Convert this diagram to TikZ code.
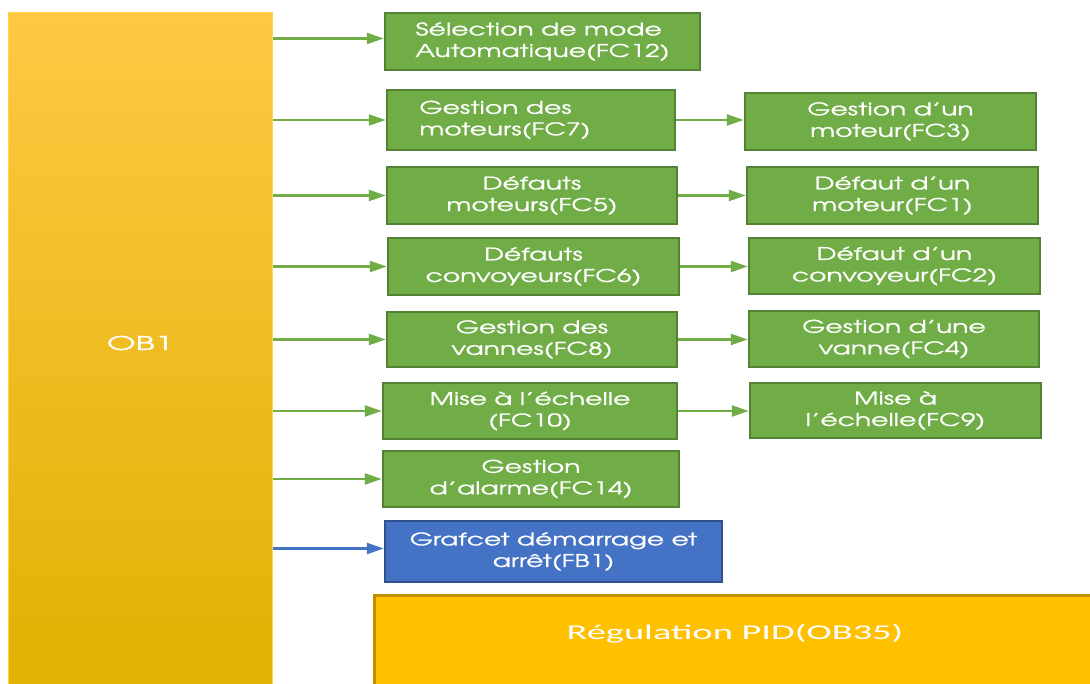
\documentclass[tikz,border=0pt]{standalone}
\usepackage{fontspec}
\newfontfamily\gfont[FakeStretch=1.52,FakeBold=0.8]{TeX Gyre Adventor}
\newfontfamily\ofont[FakeStretch=1.75,FakeBold=0.8]{TeX Gyre Adventor}
\newfontfamily\cfont[FakeStretch=1.83]{Carlito}
\usetikzlibrary{arrows.meta}
\definecolor{gfill}{HTML}{70AD47}
\definecolor{gline}{HTML}{548235}
\definecolor{bfill}{HTML}{4472C4}
\definecolor{bline}{HTML}{2F528F}
\definecolor{ofill}{HTML}{FFC000}
\definecolor{oline}{HTML}{BF9000}
\definecolor{otop}{HTML}{FFC843}
\definecolor{obot}{HTML}{E0B000}
\begin{document}
\begin{tikzpicture}[x=1pt,y=-1pt,
  gbox/.style={draw=gline, fill=gfill, line width=2.5pt, text=white,
    font=\gfont\fontsize{17.5}{21.5}\selectfont, align=center, inner sep=0pt},
  bbox/.style={gbox, draw=bline, fill=bfill},
  garrow/.style={draw=gfill, line width=2.4pt, -{Triangle[length=17pt,width=11pt]}},
  barrow/.style={garrow, draw=bfill},
]
\useasboundingbox (0,0) rectangle (1090,684);
\begin{scope}
\clip (0,0) rectangle (1090,684);
% OB1
\node[draw=ofill!70!white, line width=1pt, top color=otop, middle color=ofill, bottom color=obot,
  minimum width=264, minimum height=700, anchor=north west, inner sep=0pt] (ob1) at (8,12) {};
\node[text=white, font=\ofont\fontsize{19}{23}\selectfont] (ob1label) at (140,343) {OB1};
% OB35
\node[draw=oline, fill=ofill, line width=3pt, minimum width=740, minimum height=120,
  anchor=north west, inner sep=0pt] (ob35) at (373,594) {};
\node[text=white, font=\cfont\fontsize{21}{25}\selectfont] (ob35label) at (735,634) {Régulation PID(OB35)};
% first column
\node[gbox, minimum width=315, minimum height=57, align=left] (fc12) at (542.5,41.5) {Sélection de mode\\Automatique(FC12)};
\node[gbox, minimum width=288, minimum height=60, align=left] (fc7) at (531,120) {Gestion des\\moteurs(FC7)\hspace*{52pt}};
\node[gbox, minimum width=290, minimum height=57] (fc5) at (532,195.5) {Défauts\\moteurs(FC5)};
\node[gbox, minimum width=291, minimum height=57] (fc6) at (533.5,266.5) {Défauts\\convoyeurs(FC6)};
\node[gbox, minimum width=290, minimum height=55] (fc8) at (532,339.5) {Gestion des\\vannes(FC8)};
\node[gbox, minimum width=294, minimum height=56] (fc10) at (530,411) {Mise à l’échelle\\(FC10)};
\node[gbox, minimum width=296, minimum height=56] (fc14) at (531,479) {Gestion\\d’alarme(FC14)};
\node[bbox, minimum width=337, minimum height=61] (fb1) at (553.5,551.5) {Grafcet démarrage et\\arrêt(FB1)};
% second column
\node[gbox, minimum width=291, minimum height=57] (fc3) at (890.5,121.5) {Gestion d’un\\moteur(FC3)};
\node[gbox, minimum width=291, minimum height=57] (fc1) at (892.5,195.5) {Défaut d’un\\moteur(FC1)};
\node[gbox, minimum width=291, minimum height=56] (fc2) at (894.5,266) {Défaut d’un\\convoyeur(FC2)};
\node[gbox, minimum width=290, minimum height=56] (fc4) at (894,339) {Gestion d’une\\vanne(FC4)};
\node[gbox, minimum width=291, minimum height=55] (fc9) at (895.5,410.5) {Mise à\\l’échelle(FC9)};
% connectors from OB1
\draw[garrow] ([yshift=3pt]ob1.east |- fc12.west) -- ([yshift=3pt]fc12.west);
\foreach \n in {fc7,fc5,fc6,fc8,fc10,fc14}{
  \draw[garrow] (ob1.east |- \n.west) -- (\n.west);
}
\draw[barrow] ([yshift=3pt]ob1.east |- fb1.west) -- ([yshift=3pt]fb1.west);
% connectors to second column
\foreach \a/\b in {fc7/fc3,fc5/fc1,fc6/fc2,fc8/fc4,fc10/fc9}{
  \draw[garrow] (\a.east) -- (\a.east -| \b.west);
}
\end{scope}
\end{tikzpicture}
\end{document}
